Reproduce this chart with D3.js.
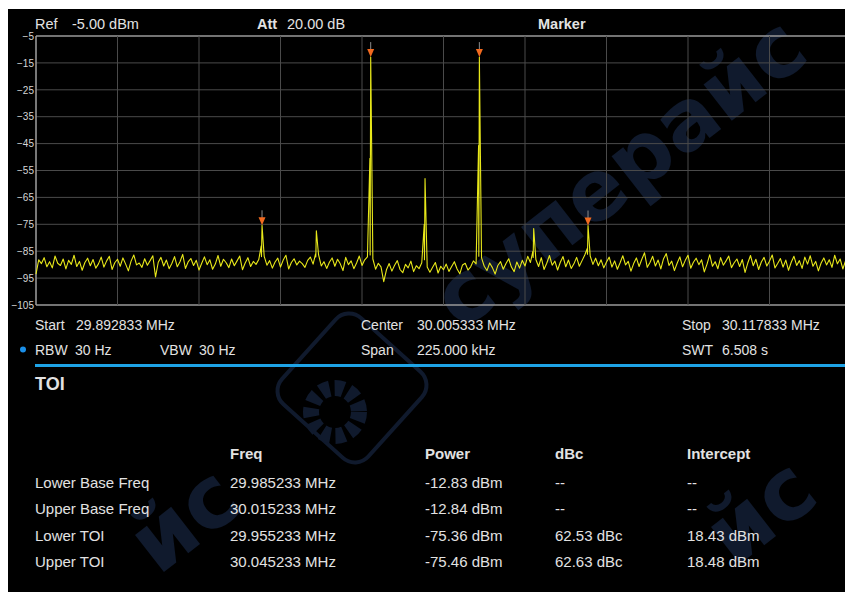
<!DOCTYPE html>
<html>
<head>
<meta charset="utf-8">
<script src="https://cdn.jsdelivr.net/npm/d3@7"></script>
<style>
body { margin: 0; background: #fff; }
svg { display: block; font-family: "Liberation Sans", Arial, sans-serif; }
</style>
</head>
<body>
<div id="renderDiv"></div>
<script>
const SVGWIDTH = 845, SVGHEIGHT = 592;

// sweep settings
const startFreq = 29.892833, stopFreq = 30.117833;
const yTicks = [-5, -15, -25, -35, -45, -55, -65, -75, -85, -95, -105];
const xDivs = d3.range(0, 11);

// trace noise floor, 301 bins from start to stop (dBm)
const noise = [
    -93.5, -88.2, -89.6, -87.4, -90.8, -88.9, -91.2, -86.8, -89.5, -90.3,
    -87.9, -91.6, -88.4, -89.9, -86.5, -90.7, -88.8, -92.1, -89.2, -87.6,
    -90.4, -88.1, -91.3, -89.7, -87.2, -90.9, -88.6, -86.9, -91.8, -89.3,
    -88.0, -90.6, -87.5, -89.8, -92.3, -88.7, -86.4, -90.1, -89.4, -91.0,
    -87.8, -90.2, -88.5, -86.7, -94.6, -89.1, -87.3, -90.5, -88.3, -91.5,
    -89.6, -87.0, -90.8, -88.9, -86.2, -91.4, -89.0, -87.7, -90.3, -88.4,
    -92.0, -89.5, -87.1, -90.0, -88.2, -91.7, -89.8, -86.6, -90.6, -88.0,
    -89.3, -91.1, -87.9, -90.4, -88.6, -86.8, -91.9, -89.4, -87.4, -90.7,
    -88.8, -89.9, -88.1, -87.0, -86.9, -90.2, -88.5, -91.3, -89.0, -87.6,
    -90.9, -88.3, -86.5, -91.6, -89.2, -87.8, -90.1, -88.7, -89.6, -91.0,
    -88.4, -87.2, -89.8, -87.1, -86.3, -90.5, -88.9, -91.4, -89.1, -87.5,
    -90.6, -88.0, -89.7, -92.2, -87.3, -90.0, -88.6, -91.5, -89.4, -86.8,
    -90.3, -88.2, -87.1, -86.4, -87.9, -91.7, -89.5, -90.8, -96.3, -91.9,
    -89.6, -92.4, -90.2, -88.5, -91.8, -93.0, -89.9, -91.2, -88.7, -92.6,
    -90.4, -91.5, -89.3, -88.2, -90.9, -92.8, -91.0, -89.2, -93.1, -90.6,
    -91.9, -89.8, -92.5, -90.7, -88.9, -91.6, -93.4, -90.1, -89.5, -92.0,
    -90.8, -88.6, -89.7, -86.9, -87.5, -90.6, -92.2, -89.4, -91.1, -93.5,
    -90.3, -88.9, -91.7, -89.6, -87.8, -90.9, -92.6, -89.0, -91.3, -88.4,
    -90.5, -86.9, -89.2, -87.3, -88.1, -90.7, -87.4, -91.8, -89.5, -86.6,
    -90.2, -88.7, -92.0, -89.1, -87.0, -90.8, -88.3, -91.4, -89.7, -87.3,
    -90.6, -88.5, -86.4, -86.1, -86.8, -89.9, -87.6, -90.4, -88.2, -91.2,
    -89.0, -87.2, -90.9, -88.6, -91.7, -89.3, -86.7, -90.1, -88.8, -92.4,
    -89.6, -87.5, -90.7, -88.0, -85.6, -91.0, -89.2, -86.9, -90.5, -88.3,
    -91.6, -87.8, -85.9, -90.3, -88.7, -92.2, -89.5, -87.1, -90.8, -88.4,
    -86.5, -91.3, -89.1, -87.6, -90.0, -88.2, -92.7, -89.8, -86.3, -90.6,
    -88.9, -91.5, -87.4, -90.2, -88.6, -86.8, -91.1, -89.3, -87.9, -90.7,
    -88.1, -92.9, -89.4, -86.6, -90.4, -88.0, -91.8, -89.0, -87.3, -90.5,
    -88.7, -86.4, -91.2, -89.6, -87.7, -90.9, -88.3, -92.1, -89.1, -86.9,
    -90.3, -88.5, -91.4, -87.2, -89.8, -86.7, -90.6, -88.8, -92.3, -89.4,
    -87.5, -90.1, -88.2, -91.0, -86.5, -89.7, -87.9, -91.6, -88.6, -90.2,
    -89.0
];

// tones and products seen on the trace
const peakFreqs = [29.955233, 29.970233, 29.985233, 30.000233, 30.015233, 30.030233, 30.045233];
const peakLevels = [-75.36, -77.4, -12.83, -58.0, -12.84, -76.6, -75.46];
const shoulderLevels = [-83.0, -86.0, -50.5, -75.0, -45.7, -85.0, -84.0];
const markerPeaks = [0, 2, 4, 6];

// screen texts
const headerLabels = ["Ref", "Att", "Marker"];
const headerValues = ["-5.00 dBm", "20.00 dB", ""];
const infoRow1 = [["Start", "29.892833 MHz"], ["Center", "30.005333 MHz"], ["Stop", "30.117833 MHz"]];
const infoRow2 = [["RBW", "30 Hz"], ["VBW", "30 Hz"], ["Span", "225.000 kHz"], ["SWT", "6.508 s"]];
const tableCols = ["Freq", "Power", "dBc", "Intercept"];
const rowNames = ["Lower Base Freq", "Upper Base Freq", "Lower TOI", "Upper TOI"];
const rowFreq = ["29.985233 MHz", "30.015233 MHz", "29.955233 MHz", "30.045233 MHz"];
const rowPower = ["-12.83 dBm", "-12.84 dBm", "-75.36 dBm", "-75.46 dBm"];
const rowDbc = ["--", "--", "62.53 dBc", "62.63 dBc"];
const rowIntercept = ["--", "--", "18.43 dBm", "18.48 dBm"];

const plot = { left: 36, top: 36, width: 815, height: 269 };
const txtColor = "#e2e2e2";
const wmColor = "#101a2d";

let svg = d3.select("#renderDiv").append("svg")
    .attr("width", SVGWIDTH).attr("height", SVGHEIGHT);

// instrument screen
svg.append("rect").attr("x", 8).attr("y", 9)
    .attr("width", SVGWIDTH - 8).attr("height", SVGHEIGHT - 9)
    .attr("fill", "#000");

// watermark, sits under everything
let wm = svg.append("g").style("pointer-events", "none");
wm.append("text").attr("transform", "translate(812,58) rotate(-38)")
    .attr("text-anchor", "end").attr("fill", wmColor)
    .style("font-size", "84px").style("font-weight", "bold")
    .style("font-family", "'DejaVu Sans', sans-serif")
    .text("суперайс");
[[822, 500], [246, 508]].forEach(function (p) {
    wm.append("text").attr("transform", "translate(" + p[0] + "," + p[1] + ") rotate(-38)")
        .attr("text-anchor", "end").attr("fill", wmColor)
        .style("font-size", "86px").style("font-weight", "bold")
        .style("font-family", "'DejaVu Sans', sans-serif")
        .text("йс");
});
wm.append("rect").attr("x", -58).attr("y", -58).attr("width", 116).attr("height", 116)
    .attr("rx", 18)
    .attr("transform", "translate(352,388) rotate(42)")
    .attr("fill", "none").attr("stroke", wmColor).attr("stroke-width", 4);
wm.append("circle").attr("cx", 335).attr("cy", 412).attr("r", 24)
    .attr("fill", "none").attr("stroke", wmColor).attr("stroke-width", 16)
    .attr("stroke-dasharray", "9,5");

let xScale = d3.scaleLinear().domain([startFreq, stopFreq])
    .range([plot.left, plot.left + plot.width]);
let yScale = d3.scaleLinear().domain([-105, -5])
    .range([plot.top + plot.height, plot.top]);
let divScale = d3.scaleLinear().domain([0, 10]).range([plot.left, plot.left + plot.width]);

// grid
let grid = svg.append("g");
grid.selectAll(".hgrid").data(yTicks).enter().append("line")
    .attr("x1", plot.left).attr("x2", plot.left + plot.width)
    .attr("y1", d => yScale(d)).attr("y2", d => yScale(d))
    .attr("stroke", (d, i) => (i == 0 || i == yTicks.length - 1) ? "#9a9a9a" : "#4a4a4a")
    .attr("stroke-width", (d, i) => (i == 0 || i == yTicks.length - 1) ? 1.5 : 1);
grid.selectAll(".vgrid").data(xDivs).enter().append("line")
    .attr("x1", d => divScale(d)).attr("x2", d => divScale(d))
    .attr("y1", plot.top).attr("y2", plot.top + plot.height)
    .attr("stroke", d => d == 0 ? "#a0a0a0" : "#4a4a4a")
    .attr("stroke-width", d => d == 0 ? 1.5 : 1);

// y axis labels
let yAxis = d3.axisLeft(yScale).tickValues(yTicks).tickSize(0).tickPadding(1);
let yAxisG = svg.append("g").attr("transform", "translate(" + (plot.left - 1) + ",0)").call(yAxis);
yAxisG.select(".domain").remove();
yAxisG.selectAll("text").attr("fill", "#d6d6d6").style("font-size", "10px")
    .style("font-family", "'Liberation Sans', Arial, sans-serif");

// trace: noise bins plus tones, sorted by frequency
let step = (stopFreq - startFreq) / (noise.length - 1);
let trace = noise.map((v, i) => [startFreq + i * step, v]);
peakFreqs.forEach(function (f, i) {
    trace.push([f - 0.00022, shoulderLevels[i]]);
    trace.push([f, peakLevels[i]]);
});
trace.sort((a, b) => a[0] - b[0]);

let line = d3.line().x(d => xScale(d[0])).y(d => yScale(d[1]));
svg.append("path").datum(trace)
    .attr("d", line)
    .attr("fill", "none")
    .attr("stroke", "#e8e81a")
    .attr("stroke-width", 1.1)
    .attr("stroke-linejoin", "round");

// markers
let mk = svg.append("g").selectAll("g").data(markerPeaks).enter().append("g")
    .attr("transform", i => "translate(" + xScale(peakFreqs[i]) + "," + yScale(peakLevels[i]) + ")");
mk.append("line").attr("x1", 0).attr("x2", 0).attr("y1", -15).attr("y2", -7)
    .attr("stroke", "#8a8a8a").attr("stroke-width", 1);
mk.append("path").attr("d", "M-3.5,-8L3.5,-8L0,0Z").attr("fill", "#f26a1f");

// header
let hx = [35, 257, 538], hvx = [72, 287];
headerLabels.forEach(function (t, i) {
    svg.append("text").attr("x", hx[i]).attr("y", 29)
        .attr("fill", txtColor).style("font-size", "14.5px")
        .style("font-weight", i == 0 ? "normal" : "bold").text(t);
    if (headerValues[i]) svg.append("text").attr("x", hvx[i]).attr("y", 29)
        .attr("fill", txtColor).style("font-size", "14.5px").text(headerValues[i]);
});

// sweep info
let info1x = [[35, 76], [361, 417], [682, 722]];
infoRow1.forEach(function (p, i) {
    p.forEach(function (t, j) {
        svg.append("text").attr("x", info1x[i][j]).attr("y", 330)
            .attr("fill", txtColor).style("font-size", "14px").text(t);
    });
});
let info2x = [[35, 75], [160, 199], [361, 417], [682, 722]];
infoRow2.forEach(function (p, i) {
    p.forEach(function (t, j) {
        svg.append("text").attr("x", info2x[i][j]).attr("y", 355)
            .attr("fill", txtColor).style("font-size", "14px").text(t);
    });
});
svg.append("circle").attr("cx", 23).attr("cy", 349.5).attr("r", 3).attr("fill", "#1a8fe8");
svg.append("line").attr("x1", 35).attr("x2", SVGWIDTH).attr("y1", 365.5).attr("y2", 365.5)
    .attr("stroke", "#1ea3e6").attr("stroke-width", 3);

svg.append("text").attr("x", 35).attr("y", 390).attr("fill", txtColor)
    .style("font-size", "18px").style("font-weight", "bold").text("TOI");

// TOI table
let colX = [230, 425, 555, 687];
svg.selectAll(".colhead").data(tableCols).enter().append("text")
    .attr("x", (d, i) => colX[i]).attr("y", 459)
    .attr("fill", txtColor).style("font-size", "15px").style("font-weight", "bold")
    .text(d => d);
let rowY = d3.scalePoint().domain(d3.range(rowNames.length)).range([487.5, 567]);
[rowNames, rowFreq, rowPower, rowDbc, rowIntercept].forEach(function (col, c) {
    svg.selectAll(".col" + c).data(col).enter().append("text")
        .attr("x", c == 0 ? 35 : colX[c - 1]).attr("y", (d, i) => rowY(i))
        .attr("fill", txtColor).style("font-size", "15px")
        .text(d => d);
});
</script>
</body>
</html>
